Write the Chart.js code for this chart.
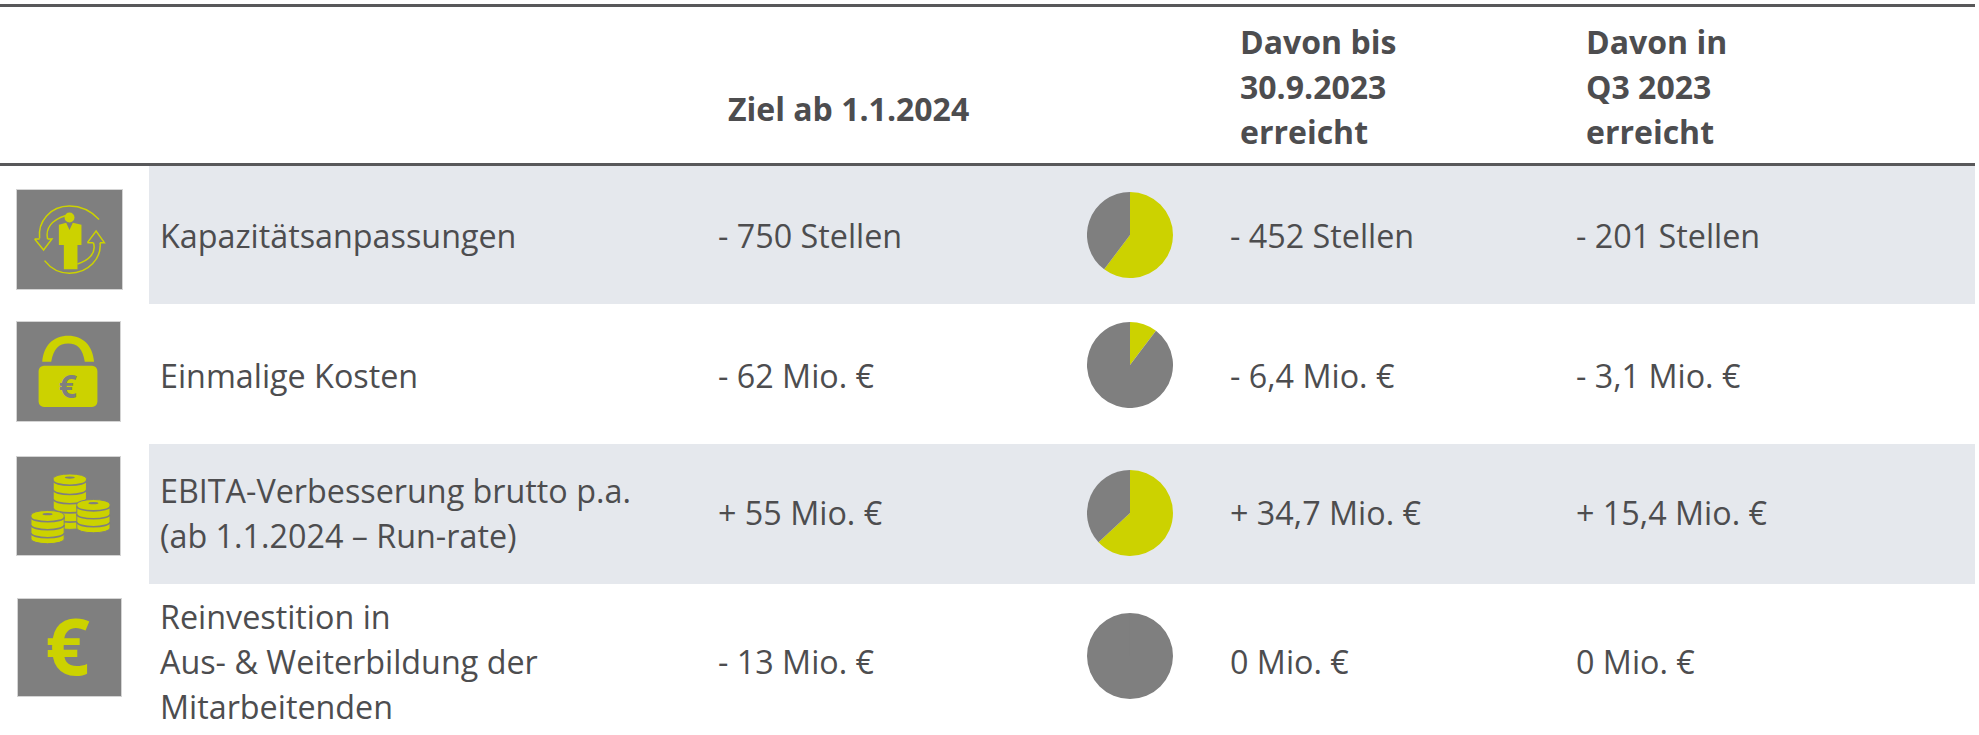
<!DOCTYPE html>
<html>
<head>
<meta charset="utf-8">
<script src="https://cdn.jsdelivr.net/npm/chart.js@4"></script>
<style>
  html, body { margin: 0; padding: 0; background: #fff; }
  #page { position: relative; width: 1979px; height: 735px; overflow: hidden; font-family: "Open Sans", sans-serif; color: #4d4d4f; }
  .rule { position: absolute; left: 0; width: 1975px; height: 3px; background: #58585a; }
  .band { position: absolute; left: 149px; width: 1826px; background: #e5e8ed; }
  .txt { position: absolute; white-space: nowrap; font-size: 32.3px; line-height: 45px; transform: translateY(-50%); }
  .head { font-weight: 700; font-size: 32px; }
  .icon { position: absolute; background: #7f7f7f; box-shadow: 0 0 0 1px #d4d4d4; }
  .icon svg { display: block; width: 100%; height: 100%; }
  .glyph { position: absolute; left: 0; right: 0; text-align: center; font-weight: 700; line-height: 1; }
  canvas { position: absolute; }
</style>
</head>
<body>
<div id="page">
  <div class="rule" style="top:4px"></div>
  <div class="rule" style="top:163px"></div>
  <div class="band" style="top:166px;height:138px"></div>
  <div class="band" style="top:444px;height:140px"></div>

  <div class="icon" style="left:17px;top:190px;width:105px;height:99px">
    <svg viewBox="0 0 316 297">
      <g fill="none" stroke="#ccd200" stroke-width="4.5">
        <path d="M247 88 C220 60 190 48 158 48 C100 48 62 95 68 145"/>
        <path d="M145 77 C105 90 85 115 92 147"/>
        <path d="M53 147 L80 180 L105 147 L92 147 M68 147 L53 147"/>
        <path d="M83 212 C105 240 130 250 158 250 C215 250 255 205 250 158"/>
        <path d="M182 222 C215 212 240 190 230 158"/>
        <path d="M212 158 L238 123 L263 158 L250 158 M230 158 L212 158"/>
      </g>
      <g fill="#ccd200">
        <circle cx="158" cy="82" r="15"/>
        <path d="M126 104 L148 98 L158 120 L168 98 L194 104 L194 165 L182 165 L182 238 L141 238 L141 165 L126 165 Z"/>
      </g>
    </svg>
  </div>

  <div class="icon" style="left:17px;top:322px;width:103px;height:99px">
    <svg viewBox="0 0 310 297">
      <g fill="#ccd200">
        <path d="M76 119 C80 70 110 41 154 41 C198 41 228 70 232 119 L204 119 C198 80 182 64 154 64 C126 64 110 80 103 119 Z"/>
        <rect x="65" y="131" width="177" height="124" rx="16"/>
      </g>
    </svg>
    <div class="glyph" style="top:48px;font-size:32px;color:#7f7f7f;padding-right:1px">€</div>
  </div>

  <div class="icon" style="left:17px;top:457px;width:103px;height:98px">
    <svg id="coins" viewBox="0 0 310 295"></svg>
  </div>

  <div class="icon" style="left:18px;top:599px;width:103px;height:97px">
    <div class="glyph" style="top:7px;font-size:78px;color:#ccd200;padding-right:4px">€</div>
  </div>
</div>

<script>
// Table content
const categories = [
  ["Kapazitätsanpassungen"],
  ["Einmalige Kosten"],
  ["EBITA-Verbesserung brutto p.a.", "(ab 1.1.2024 – Run-rate)"],
  ["Reinvestition in", "Aus- & Weiterbildung der", "Mitarbeitenden"]
];
const columnHeads = [["Ziel ab 1.1.2024"], ["Davon bis", "30.9.2023", "erreicht"], ["Davon in", "Q3 2023", "erreicht"]];
const targetLabels = ["- 750 Stellen", "- 62 Mio. €", "+ 55 Mio. €", "- 13 Mio. €"];
const reachedLabels = ["- 452 Stellen", "- 6,4 Mio. €", "+ 34,7 Mio. €", "0 Mio. €"];
const q3Labels = ["- 201 Stellen", "- 3,1 Mio. €", "+ 15,4 Mio. €", "0 Mio. €"];

// Pie slices per row
const sliceNames = ["erreicht", "offen"];
const reached = [452, 6.4, 34.7, 0];
const remaining = [298, 55.6, 20.3, 13];

// Layout
const GREEN = "#ccd200";
const GREY = "#7f7f7f";
const PIE_SIZE = 86;
const pieX = 1087;
const pieTops = [192, 322, 470, 613];
const labelCenters = [235, 375, 513, 661];
const valueCenters = [235, 375, 512, 661];
const page = document.getElementById("page");

function addText(x, centerY, lines, cls) {
  const el = document.createElement("div");
  el.className = "txt" + (cls ? " " + cls : "");
  el.style.left = x + "px";
  el.style.top = centerY + "px";
  lines.forEach((line, i) => {
    if (i) el.appendChild(document.createElement("br"));
    el.appendChild(document.createTextNode(line));
  });
  page.appendChild(el);
}

// Coin icon: one green silhouette per stack, grey arcs for the coin edges
function coinStack(svg, cx, top, height, bands) {
  const rx = 50, ry = 14;
  const bottom = top + height - ry;
  let out = `<path d="M${cx - rx} ${top + ry} A${rx} ${ry} 0 0 1 ${cx + rx} ${top + ry} V${bottom} A${rx} ${ry} 0 0 1 ${cx - rx} ${bottom} Z" fill="${GREEN}" stroke="${GREY}" stroke-width="3"/>`;
  const step = (bottom - top - ry) / bands;
  for (let i = 0; i < bands; i++) {
    const y = top + ry + 6 + i * step;
    out += `<path d="M${cx - rx} ${y} A${rx} ${ry} 0 0 0 ${cx + rx} ${y}" fill="none" stroke="${GREY}" stroke-width="5"/>`;
  }
  out += `<ellipse cx="${cx}" cy="${top + ry - 3}" rx="15" ry="3.5" fill="${GREY}"/>`;
  svg.innerHTML += out;
}
const coinSvg = document.getElementById("coins");
coinStack(coinSvg, 159, 51, 167, 5);
coinStack(coinSvg, 230, 128, 100, 3);
coinStack(coinSvg, 92, 161, 100, 3);

addText(728, 108, columnHeads[0], "head");
addText(1240, 86, columnHeads[1], "head");
addText(1586, 86, columnHeads[2], "head");

categories.forEach((lines, i) => {
  addText(160, labelCenters[i], lines);
  addText(718, valueCenters[i], [targetLabels[i]]);
  addText(1230, valueCenters[i], [reachedLabels[i]]);
  addText(1576, valueCenters[i], [q3Labels[i]]);

  const cv = document.createElement("canvas");
  cv.width = PIE_SIZE;
  cv.height = PIE_SIZE;
  cv.style.left = pieX + "px";
  cv.style.top = pieTops[i] + "px";
  page.appendChild(cv);

  new Chart(cv.getContext("2d"), {
    type: "pie",
    data: {
      labels: sliceNames,
      datasets: [{
        data: [reached[i], remaining[i]],
        backgroundColor: [GREEN, GREY],
        borderWidth: 0
      }]
    },
    options: {
      responsive: false,
      animation: false,
      layout: { padding: 0 },
      plugins: { legend: { display: false }, tooltip: { enabled: false } }
    }
  });
});
</script>
</body>
</html>
